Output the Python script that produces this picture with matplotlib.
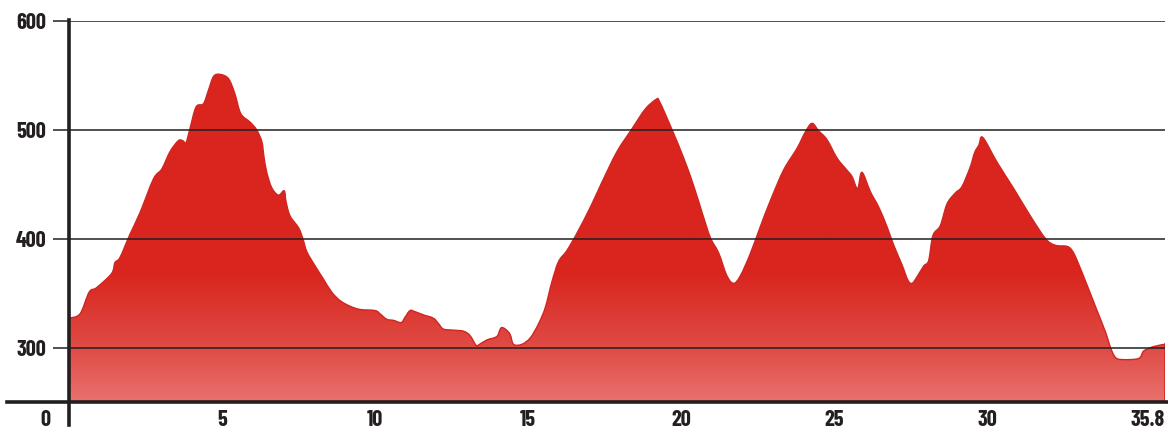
import numpy as np
import matplotlib
matplotlib.use("Agg")
import matplotlib.pyplot as plt
from matplotlib.colors import LinearSegmentedColormap
from matplotlib.lines import Line2D
from matplotlib.path import Path
from matplotlib.patches import PathPatch

# distance (km) and elevation (m)
km = [0.0, 0.36, 0.66, 0.9, 1.39, 1.5, 1.67, 1.99, 2.32, 2.76, 3.03, 3.3, 3.57, 3.72, 3.82,
      3.95, 4.15, 4.39, 4.55, 4.72, 4.93, 5.21, 5.42, 5.61, 5.92, 6.13, 6.3, 6.37, 6.46, 6.62,
      6.84, 7.03, 7.09, 7.22, 7.5, 7.64, 7.77, 8.04, 8.31, 8.58, 8.86, 9.18, 9.51, 10.0, 10.16,
      10.38, 10.6, 10.85, 10.98, 11.14, 11.3, 11.58, 11.9, 12.07, 12.23, 12.56, 12.89, 13.1,
      13.3, 13.41, 13.65, 13.89, 14.0, 14.11, 14.25, 14.41, 14.52, 14.79, 15.07, 15.34, 15.56,
      15.77, 15.99, 16.26, 16.59, 17.03, 17.41, 17.9, 18.39, 18.82, 19.18, 19.29, 19.7, 20.08,
      20.4, 20.68, 20.95, 21.22, 21.49, 21.71, 21.93, 22.25, 22.58, 22.91, 23.34, 23.78, 24.05,
      24.27, 24.49, 24.76, 25.09, 25.41, 25.58, 25.76, 25.9, 26.18, 26.45, 26.72, 26.94, 27.21,
      27.4, 27.54, 27.7, 27.92, 28.08, 28.22, 28.46, 28.68, 28.95, 29.17, 29.44, 29.58, 29.72,
      29.85, 30.32, 30.86, 31.4, 31.9, 32.22, 32.6, 32.77, 32.93, 33.26, 33.58, 33.86, 34.02,
      34.18, 34.4, 34.94, 35.11, 35.44, 35.8]
elev = [327, 331, 351, 355, 368, 378, 383, 404, 424, 455, 464, 480, 490, 490, 488,
        501, 521, 524, 536, 549, 551, 547, 533, 515, 507, 500, 489, 475, 461, 447,
        440, 444, 434, 421, 410, 400, 388, 375, 363, 351, 343, 338, 335, 334, 331,
        326, 325, 323, 328, 334, 333, 330, 327, 322, 317, 316, 315, 311,
        302, 303, 307, 309, 311, 318, 317, 312, 303, 303, 309, 322, 337,
        360, 379, 389, 405, 429, 452, 480, 501, 519, 528, 526, 500, 474,
        449, 424, 401, 387, 366, 359, 366, 386, 411, 435, 463, 483, 498,
        506, 499, 491, 474, 463, 457, 446, 461, 443, 429, 411, 394, 376,
        362, 359, 365, 375, 380, 403, 412, 432, 442, 448, 466, 479, 486,
        493, 470, 446, 421, 400, 394, 393, 389, 380, 357, 334, 314, 300,
        291, 289, 290, 297, 301, 303]

y_ticks = [300, 400, 500, 600]
x_ticks = [5, 10, 15, 20, 25, 30, 35.8]
x_labels = ["5", "10", "15", "20", "25", "30", "35.8"]

plt.rcParams['font.family'] = ['Barlow Condensed', 'Archivo Narrow', 'DejaVu Sans']
ink = "#231f20"
fs = 16
fw = "bold"

fig = plt.figure(figsize=(11.68, 4.28), dpi=100)
ax = fig.add_axes([69 / 1168, 26 / 428, 1096 / 1168, 381 / 428])

ymin, ymax = 250, 600
ax.set_xlim(0, 35.8)
ax.set_ylim(ymin, ymax)

# smooth bezier path through the profile points
P = np.column_stack([km, elev]).astype(float)
n = len(P)
verts = [P[0]]
codes = [Path.MOVETO]
for i in range(n - 1):
    p_prev = P[max(i - 1, 0)]
    p_next2 = P[min(i + 2, n - 1)]
    c1 = P[i] + (P[i + 1] - p_prev) / 6.0
    c2 = P[i + 1] - (p_next2 - P[i]) / 6.0
    verts += [c1, c2, P[i + 1]]
    codes += [Path.CURVE4] * 3
line_path = Path(verts, codes)
fill_path = Path(verts + [(km[-1], ymin), (km[0], ymin), P[0]],
                 codes + [Path.LINETO, Path.LINETO, Path.CLOSEPOLY])

# gradient fill: solid red on top, lighter towards the base
cmap = LinearSegmentedColormap.from_list(
    "prof", [(0.0, "#e8716e"), (0.14, "#e04b46"), (0.34, "#d9251e"), (1.0, "#d9251e")])
grad = np.linspace(0, 1, 256).reshape(-1, 1)
img = ax.imshow(grad, cmap=cmap, origin="lower", aspect="auto",
                extent=[0, 35.8, ymin, ymax], zorder=1)
img.set_clip_path(fill_path, transform=ax.transData)
ax.add_patch(PathPatch(line_path, facecolor="none", edgecolor="#d02520", lw=1.0, zorder=2))
ax.plot([km[-1], km[-1]], [ymin, elev[-1]], color="#d02520", lw=1.2, zorder=2)

# grid lines
for v in y_ticks:
    ax.axhline(v, color=ink, lw=1.1, zorder=3)

ax.set_yticks(y_ticks)
ax.set_yticklabels([str(v) for v in y_ticks], fontsize=fs, fontweight=fw, color=ink)
ax.tick_params(axis="y", length=11.5, width=1.1, color=ink, pad=5)
ax.set_xticks(x_ticks)
ax.set_xticklabels(x_labels, fontsize=fs, fontweight=fw, color=ink)
ax.get_xticklabels()[-1].set_horizontalalignment("right")
ax.tick_params(axis="x", length=0, pad=6)

for s in ax.spines.values():
    s.set_visible(False)

# axis lines extended beyond the plot area
ax.add_line(Line2D([-0.0566, 1.01], [0, 0], transform=ax.transAxes, color=ink,
                   lw=2.6, clip_on=False, zorder=4))
ax.add_line(Line2D([0, 0], [-0.06, 1.003], transform=ax.transAxes, color=ink,
                   lw=2.6, clip_on=False, zorder=4))
ax.text(-0.022, -0.047, "0", transform=ax.transAxes, ha="center", va="center",
        fontsize=fs, fontweight=fw, color=ink)

fig.savefig("out.png", dpi=100)
